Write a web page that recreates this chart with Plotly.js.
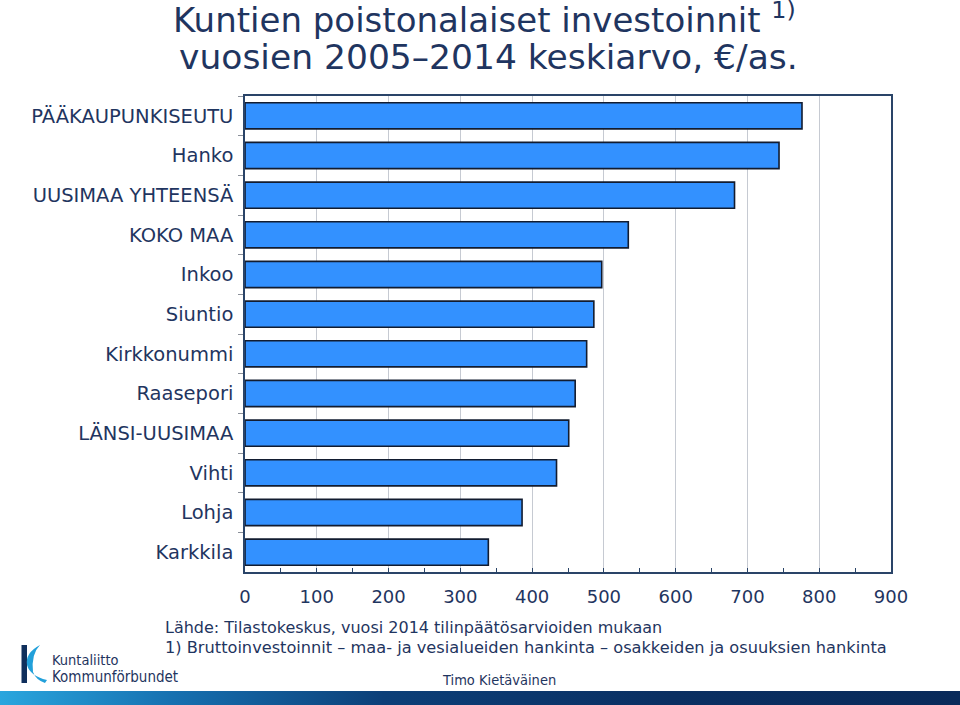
<!DOCTYPE html>
<html>
<head>
<meta charset="utf-8">
<script src="https://cdn.plot.ly/plotly-3.0.1.min.js"></script>
<style>
  html, body { margin: 0; padding: 0; background: #ffffff; }
  #wrap { position: relative; width: 960px; height: 705px; overflow: hidden; }
  #chart { width: 960px; height: 705px; }
  #band { position: absolute; left: 0; top: 691px; width: 960px; height: 14px;
          background: linear-gradient(to right, #2aa6de 0%, #1670b0 18%, #0c3f78 40%, #0a2f62 70%, #092a5a 100%); }
</style>
</head>
<body>
<div id="wrap">
  <div id="chart"></div>
  <div id="band"></div>
</div>
<script>
// ---- data ----
const categories = [
  "PÄÄKAUPUNKISEUTU", "Hanko", "UUSIMAA YHTEENSÄ", "KOKO MAA", "Inkoo", "Siuntio",
  "Kirkkonummi", "Raasepori", "LÄNSI-UUSIMAA", "Vihti", "Lohja", "Karkkila"
];
const values = [776, 744, 682, 534, 497, 486, 476, 460, 451, 434, 386, 339];
const xTickValues = [0, 100, 200, 300, 400, 500, 600, 700, 800, 900];
const titleLine1 = "Kuntien poistonalaiset investoinnit <sup>1)</sup>";
const titleLine2 = "vuosien 2005–2014 keskiarvo, €/as.";
const sourceNote = "Lähde: Tilastokeskus, vuosi 2014 tilinpäätösarvioiden mukaan";
const footNote = "1) Bruttoinvestoinnit – maa- ja vesialueiden hankinta – osakkeiden ja osuuksien hankinta";
const logoLine1 = "Kuntaliitto";
const logoLine2 = "Kommunförbundet";
const author = "Timo Kietäväinen";

// ---- layout helpers (pixel -> paper) ----
const L = 245, T = 96, W = 646, H = 476;
const px = x => (x - L) / W;
const py = y => (T + H - y) / H;

const navy = "#1f3560";
const sans = "DejaVu Sans, Verdana, sans-serif";
const cond = "DejaVu Sans Condensed, DejaVu Sans, sans-serif";

const trace = {
  type: "bar",
  orientation: "h",
  y: categories,
  x: values,
  width: 0.66,
  marker: { color: "#3391ff", line: { color: "#121c30", width: 1.6 } },
  hoverinfo: "x+y"
};

const toP = (x, y) => px(x).toFixed(5) + "," + py(y).toFixed(5);
function swooshPath() {
  return "M " + toP(40, 645) +
         " Q " + toP(25, 653) + " " + toP(27, 665) +
         " Q " + toP(30, 676) + " " + toP(47, 680) +
         " L " + toP(45, 683) +
         " Q " + toP(36, 680) + " " + toP(33, 672) +
         " Q " + toP(31, 654) + " " + toP(40, 645) + " Z";
}

const layout = {
  width: 960, height: 705,
  margin: { l: L, r: 960 - L - W, t: T, b: 705 - T - H, pad: 0 },
  paper_bgcolor: "rgba(0,0,0,0)",
  plot_bgcolor: "#ffffff",
  showlegend: false,
  bargap: 0.34,
  font: { family: sans, color: navy, size: 19 },
  xaxis: {
    range: [0, 900],
    tickvals: xTickValues,
    ticktext: xTickValues.map(String),
    showgrid: true, gridcolor: "#c6cad2", gridwidth: 1,
    zeroline: false,
    showline: true, linecolor: "#2a4468", linewidth: 1.5, mirror: true,
    ticks: "inside", ticklen: 4, tickcolor: "#2a4468",
    minor: { dtick: 50, tick0: 0, ticks: "inside", ticklen: 4, tickcolor: "#2a4468", showgrid: false },
    tickfont: { family: sans, size: 18, color: navy },
    ticklabelstandoff: 8,
    fixedrange: true
  },
  yaxis: {
    type: "category",
    autorange: "reversed",
    showgrid: false,
    showline: true, linecolor: "#2a4468", linewidth: 1.5, mirror: true,
    ticks: "outside", tickson: "boundaries", ticklen: 5, tickcolor: "#8a8f99",
    tickfont: { family: sans, size: 19.5, color: navy },
    ticklabelstandoff: 6,
    fixedrange: true
  },
  shapes: [
    { type: "rect", xref: "paper", yref: "paper",
      x0: px(21.5), x1: px(27), y0: py(683), y1: py(645),
      fillcolor: "#0f2f5c", line: { width: 0 }, layer: "above" },
    { type: "path", xref: "paper", yref: "paper", path: swooshPath(),
      fillcolor: "#22a0da", line: { width: 0 }, layer: "above" }
  ],
  annotations: [
    { text: titleLine1, xref: "paper", yref: "paper", x: px(171), y: py(18),
      xanchor: "left", yanchor: "middle", showarrow: false,
      font: { family: sans, size: 34, color: navy } },
    { text: titleLine2, xref: "paper", yref: "paper", x: px(177), y: py(57),
      xanchor: "left", yanchor: "middle", showarrow: false,
      font: { family: sans, size: 34.5, color: navy } },
    { text: sourceNote, xref: "paper", yref: "paper", x: px(163), y: py(627),
      xanchor: "left", yanchor: "middle", showarrow: false,
      font: { family: sans, size: 16, color: navy } },
    { text: footNote, xref: "paper", yref: "paper", x: px(163), y: py(648),
      xanchor: "left", yanchor: "middle", showarrow: false,
      font: { family: sans, size: 16.2, color: navy } },
    { text: logoLine1, xref: "paper", yref: "paper", x: px(50), y: py(660),
      xanchor: "left", yanchor: "middle", showarrow: false,
      font: { family: cond, size: 14.5, color: navy } },
    { text: logoLine2, xref: "paper", yref: "paper", x: px(50), y: py(677),
      xanchor: "left", yanchor: "middle", showarrow: false,
      font: { family: cond, size: 15, color: navy } },
    { text: author, xref: "paper", yref: "paper", x: px(440), y: py(680),
      xanchor: "left", yanchor: "middle", showarrow: false,
      font: { family: cond, size: 14.5, color: navy } }
  ]
};

Plotly.newPlot("chart", [trace], layout, { displayModeBar: false });
</script>
</body>
</html>
